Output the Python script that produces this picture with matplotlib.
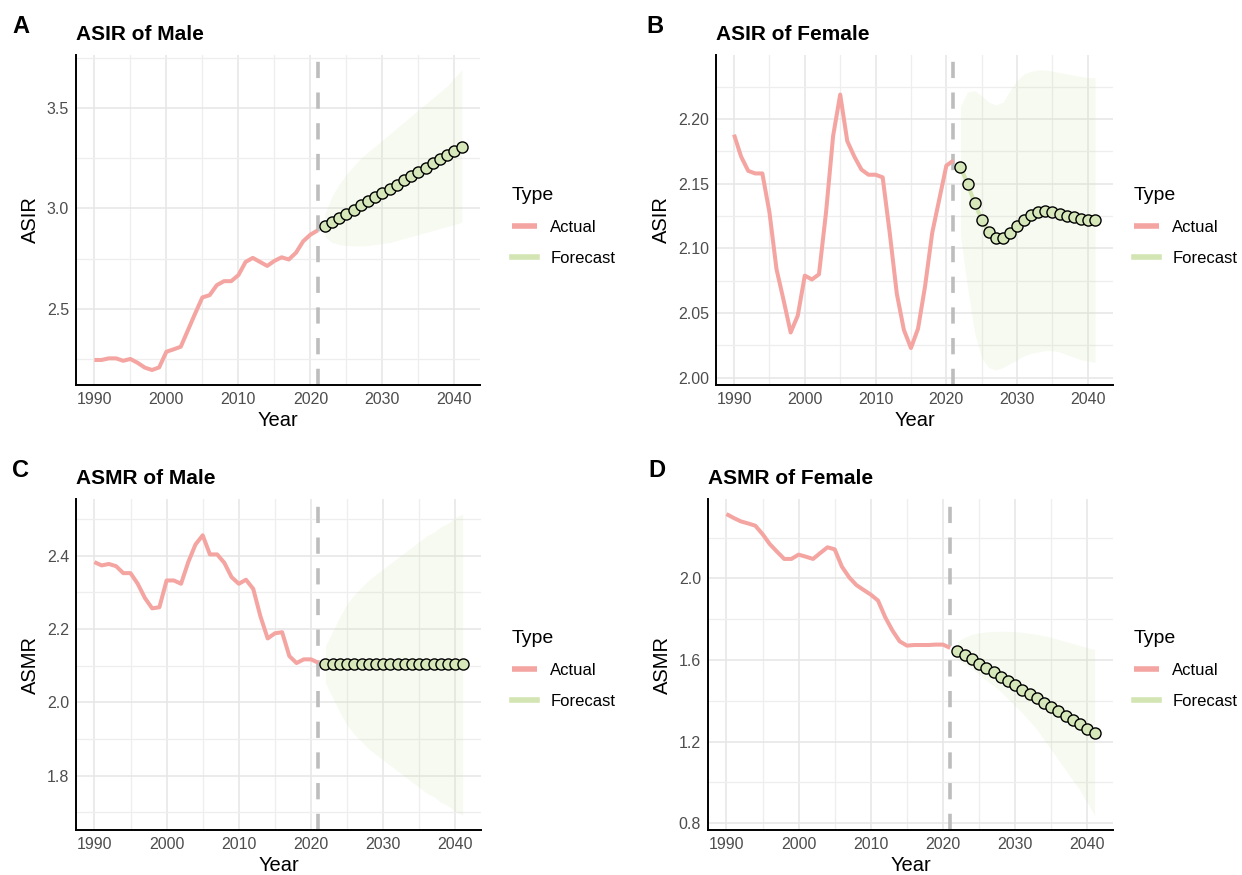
import numpy as np
import matplotlib
matplotlib.use("Agg")
import matplotlib.pyplot as plt
from matplotlib.ticker import MultipleLocator, FormatStrFormatter

plt.rcParams['font.family'] = ['Liberation Sans', 'DejaVu Sans']

# Years
years_actual = list(range(1990, 2022))
years_forecast = list(range(2022, 2042))

# A: ASIR of Male
asir_male_actual = [2.244, 2.244, 2.252, 2.252, 2.240, 2.249, 2.230, 2.206, 2.194, 2.207,
                    2.285, 2.297, 2.310, 2.393, 2.476, 2.556, 2.567, 2.617, 2.637, 2.637,
                    2.667, 2.733, 2.753, 2.733, 2.713, 2.738, 2.756, 2.745, 2.779, 2.836,
                    2.869, 2.890]
asir_male_fc = [2.912, 2.932, 2.952, 2.973, 2.994, 3.015, 3.035, 3.056, 3.077, 3.098,
                3.119, 3.140, 3.161, 3.182, 3.203, 3.224, 3.245, 3.266, 3.287, 3.308]
asir_male_lo = [2.860, 2.830, 2.820, 2.815, 2.813, 2.813, 2.815, 2.820, 2.825, 2.830,
                2.840, 2.850, 2.860, 2.870, 2.880, 2.890, 2.900, 2.910, 2.920, 2.930]
asir_male_hi = [2.970, 3.060, 3.120, 3.170, 3.210, 3.250, 3.280, 3.310, 3.340, 3.370,
                3.400, 3.430, 3.460, 3.490, 3.520, 3.550, 3.580, 3.610, 3.650, 3.690]

# B: ASIR of Female
asir_female_actual = [2.188, 2.171, 2.160, 2.158, 2.158, 2.128, 2.084, 2.060, 2.035, 2.048,
                      2.079, 2.076, 2.080, 2.128, 2.187, 2.219, 2.183, 2.171, 2.161, 2.157,
                      2.157, 2.155, 2.112, 2.065, 2.037, 2.023, 2.038, 2.071, 2.112, 2.138,
                      2.164, 2.168]
asir_female_fc = [2.163, 2.150, 2.135, 2.122, 2.113, 2.108, 2.108, 2.112, 2.117, 2.122,
                  2.126, 2.128, 2.129, 2.128, 2.127, 2.125, 2.124, 2.123, 2.122, 2.122]
asir_female_lo = [2.110, 2.070, 2.035, 2.015, 2.008, 2.006, 2.008, 2.011, 2.014, 2.017,
                  2.019, 2.020, 2.021, 2.021, 2.020, 2.018, 2.016, 2.014, 2.013, 2.012]
asir_female_hi = [2.210, 2.221, 2.222, 2.218, 2.213, 2.211, 2.213, 2.222, 2.230, 2.235,
                  2.237, 2.238, 2.238, 2.237, 2.236, 2.235, 2.234, 2.233, 2.232, 2.232]

# C: ASMR of Male
asmr_male_actual = [2.382, 2.373, 2.377, 2.371, 2.352, 2.352, 2.323, 2.284, 2.256, 2.259,
                    2.332, 2.332, 2.323, 2.382, 2.430, 2.455, 2.403, 2.403, 2.380, 2.341,
                    2.323, 2.334, 2.309, 2.234, 2.174, 2.188, 2.191, 2.126, 2.107, 2.117,
                    2.117, 2.108]
asmr_male_fc = [2.103, 2.103, 2.103, 2.103, 2.103, 2.103, 2.103, 2.103, 2.103, 2.103,
                2.103, 2.103, 2.103, 2.103, 2.103, 2.103, 2.103, 2.103, 2.103, 2.103]
asmr_male_lo = [2.053, 2.013, 1.973, 1.938, 1.913, 1.893, 1.873, 1.858, 1.843, 1.828,
                1.813, 1.798, 1.783, 1.768, 1.753, 1.743, 1.728, 1.718, 1.703, 1.693]
asmr_male_hi = [2.153, 2.193, 2.233, 2.268, 2.293, 2.313, 2.333, 2.348, 2.363, 2.378,
                2.393, 2.408, 2.423, 2.438, 2.453, 2.463, 2.478, 2.488, 2.503, 2.513]

# D: ASMR of Female
asmr_female_actual = [2.315, 2.296, 2.279, 2.269, 2.258, 2.217, 2.168, 2.131, 2.095, 2.095,
                      2.116, 2.106, 2.095, 2.124, 2.152, 2.142, 2.057, 2.005, 1.967, 1.943,
                      1.920, 1.891, 1.809, 1.744, 1.691, 1.670, 1.673, 1.673, 1.673, 1.675,
                      1.675, 1.659]
asmr_female_fc = [1.646, 1.625, 1.603, 1.582, 1.561, 1.539, 1.518, 1.497, 1.475, 1.454,
                  1.433, 1.412, 1.390, 1.369, 1.348, 1.326, 1.305, 1.284, 1.262, 1.241]
asmr_female_lo = [1.600, 1.580, 1.555, 1.530, 1.500, 1.475, 1.445, 1.410, 1.375, 1.340,
                  1.300, 1.260, 1.210, 1.160, 1.110, 1.060, 1.010, 0.960, 0.900, 0.840]
asmr_female_hi = [1.690, 1.710, 1.725, 1.733, 1.737, 1.740, 1.740, 1.740, 1.738, 1.735,
                  1.730, 1.725, 1.718, 1.710, 1.700, 1.690, 1.680, 1.670, 1.660, 1.650]

ACTUAL_COL = '#F4A5A1'
FC_LINE_COL = '#D2E5B3'
FC_FILL_COL = '#D6E8BA'
RIBBON_COL = '#C9E0A5'

panels = [
    # letter, title, ylabel, actual, fc, lo, hi, rect, major, fmt, letter_x, legend_xy
    ('A', 'ASIR of Male', 'ASIR', asir_male_actual, asir_male_fc, asir_male_lo, asir_male_hi,
     (76, 55, 480, 385), 0.5, '%.1f', 12, (497, 172)),
    ('B', 'ASIR of Female', 'ASIR', asir_female_actual, asir_female_fc, asir_female_lo, asir_female_hi,
     (716, 55, 1113, 385), 0.05, '%.2f', 646, (1119, 172)),
    ('C', 'ASMR of Male', 'ASMR', asmr_male_actual, asmr_male_fc, asmr_male_lo, asmr_male_hi,
     (76, 499, 481, 830), 0.2, '%.1f', 12, (497, 615)),
    ('D', 'ASMR of Female', 'ASMR', asmr_female_actual, asmr_female_fc, asmr_female_lo, asmr_female_hi,
     (708, 499, 1113, 830), 0.4, '%.1f', 648, (1119, 615)),
]

W, H = 1242, 875
fig = plt.figure(figsize=(W / 100, H / 100), dpi=100)

for letter, title, ylab, act, fc, lo, hi, rect, major, fmt, lx, legxy in panels:
    x0, y0, x1, y1 = rect
    ax = fig.add_axes([x0 / W, 1 - y1 / H, (x1 - x0) / W, (y1 - y0) / H])

    # ggplot-style 5% expansion
    all_x = years_actual + years_forecast
    xmin, xmax = min(all_x), max(all_x)
    dx = (xmax - xmin) * 0.05
    ax.set_xlim(xmin - dx, xmax + dx)
    all_y = act + fc + lo + hi
    ymin, ymax = min(all_y), max(all_y)
    dy = (ymax - ymin) * 0.05
    ax.set_ylim(ymin - dy, ymax + dy)

    ax.fill_between(years_forecast, lo, hi, color=RIBBON_COL, alpha=0.16, lw=0, zorder=1)
    l_act, = ax.plot(years_actual, act, color=ACTUAL_COL, lw=2.9, solid_capstyle='butt',
                     zorder=3, label='Actual')
    ax.axvline(2021, color='#BDBDBD', lw=2.6, dashes=(4.5, 4), zorder=2)
    l_fc, = ax.plot(years_forecast, fc, color=FC_LINE_COL, lw=2.9, zorder=4, label='Forecast')
    ax.plot(years_forecast, fc, ls='none', marker='o', ms=8, mfc=FC_FILL_COL,
            mec='black', mew=1.0, zorder=5)

    # theme_minimal look
    ax.xaxis.set_major_locator(MultipleLocator(10))
    ax.xaxis.set_minor_locator(MultipleLocator(5))
    ax.yaxis.set_major_locator(MultipleLocator(major))
    ax.yaxis.set_minor_locator(MultipleLocator(major / 2))
    ax.yaxis.set_major_formatter(FormatStrFormatter(fmt))
    ax.grid(which='major', color='#E6E6E6', lw=1.1, zorder=0)
    ax.grid(which='minor', color='#EEEEEE', lw=0.9, zorder=0)
    ax.set_axisbelow(True)
    ax.tick_params(which='both', length=0, labelsize=11.5, labelcolor='#4D4D4D', pad=5)
    for s in ['top', 'right']:
        ax.spines[s].set_visible(False)
    for s in ['left', 'bottom']:
        ax.spines[s].set_linewidth(1.4)
        ax.spines[s].set_color('black')

    ax.set_xlabel('Year', fontsize=14.5, labelpad=3)
    ax.set_ylabel(ylab, fontsize=14.5, labelpad=5)
    ax.set_title(title, loc='left', fontsize=15, fontweight='bold', pad=11)
    fig.text(lx / W, 1 - (y0 - 22) / H, letter, fontsize=17, fontweight='bold',
             ha='left', va='baseline')

    leg = ax.legend(handles=[l_act, l_fc], title='Type', frameon=False,
                    loc='upper left', bbox_to_anchor=(legxy[0] / W, 1 - legxy[1] / H),
                    bbox_transform=fig.transFigure, fontsize=12, title_fontsize=14,
                    handlelength=1.5, handletextpad=0.8, labelspacing=0.95,
                    alignment='left')
    for h in leg.legend_handles:
        h.set_linewidth(4)

fig.savefig('out.png', dpi=100)
